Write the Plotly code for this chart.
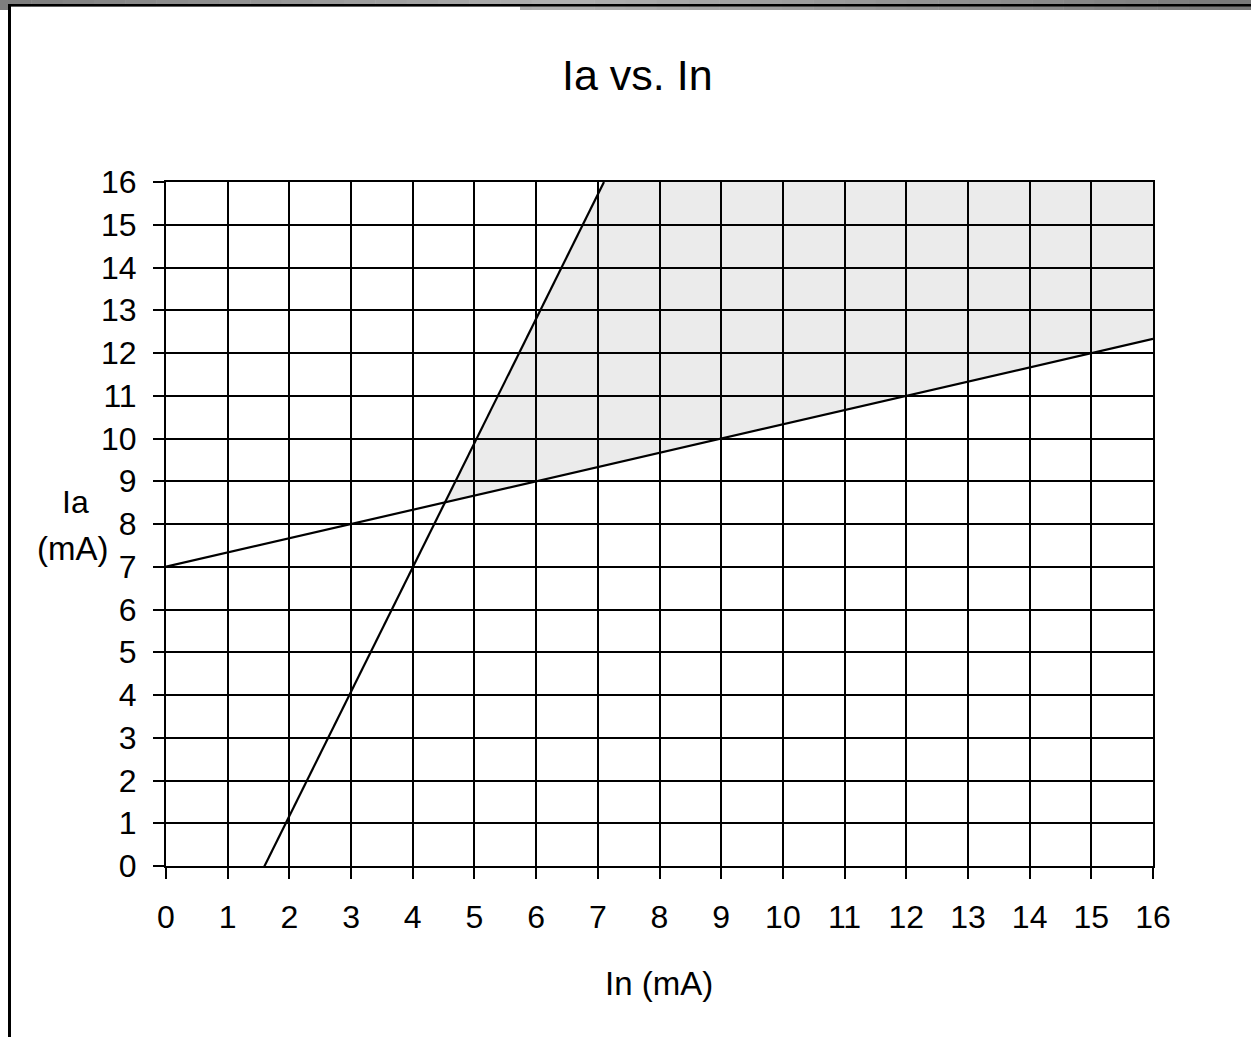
import plotly.graph_objects as go

# ---------------- data ----------------
tick_values = list(range(0, 17))
tick_labels = [str(v) for v in tick_values]

# steep boundary line (Ia vs In)
line_a_in = [1.57, 7.10]
line_a_ia = [-0.08, 16.0]

# shallow boundary line
line_b_in = [0.0, 16.0]
line_b_ia = [7.0, 12.33]

# shaded operating region
region_in = [4.52, 7.10, 16.0, 16.0, 4.52]
region_ia = [8.51, 16.0, 16.0, 12.33, 8.51]

title_text = "Ia vs. In"
x_title = "In (mA)"
y_title_1 = "Ia"
y_title_2 = "(mA)"

# ---------------- layout geometry ----------------
W, H = 1251, 1037
PL, PR, PT, PB = 166, 1153, 182, 866  # plot area in pixels


def px(x):
    return (x - PL) / (PR - PL)


def py(y):
    return (PB - y) / (PB - PT)


FONT = "Liberation Sans, Arial, Helvetica, sans-serif"

fig = go.Figure()

fig.add_trace(go.Scatter(
    x=region_in, y=region_ia, mode="lines", fill="toself",
    fillcolor="rgba(0,0,0,0.08)", line=dict(width=0), hoverinfo="skip",
    showlegend=False))

fig.add_trace(go.Scatter(
    x=line_a_in, y=line_a_ia, mode="lines",
    line=dict(color="black", width=2.2), showlegend=False))

fig.add_trace(go.Scatter(
    x=line_b_in, y=line_b_ia, mode="lines",
    line=dict(color="black", width=2.2), showlegend=False))

axis_common = dict(
    range=[0, 16], tickmode="array", tickvals=tick_values, ticktext=tick_labels,
    showgrid=True, gridcolor="black", gridwidth=2,
    zeroline=False, showline=True, linecolor="black", linewidth=2, mirror=True,
    ticks="outside", ticklen=11, tickwidth=2, tickcolor="black",
    tickfont=dict(family=FONT, size=32, color="black"),
    automargin=False, fixedrange=True,
)

fig.update_xaxes(**axis_common, ticklabelstandoff=11)
fig.update_yaxes(**axis_common, ticklabelstandoff=10)

# window frame decoration (gradient band at top)
shapes = []
n = 40
for i in range(n):
    x0 = W * i / n
    x1 = W * (i + 1) / n
    t = (x0 + x1) / 2 / W
    if t < 0.45:
        g = 125 + (176 - 125) * t / 0.45
    else:
        g = 176 - (176 - 120) * (t - 0.45) / 0.55
    g = int(round(g))
    shapes.append(dict(type="rect", xref="paper", yref="paper",
                       x0=px(x0), x1=px(x1 + 0.5), y0=py(10), y1=py(0),
                       fillcolor=f"rgb({g},{g},{g})", line=dict(width=0),
                       layer="above"))
shapes.append(dict(type="rect", xref="paper", yref="paper",
                   x0=px(11), x1=px(520), y0=py(10), y1=py(6.5),
                   fillcolor="white", line=dict(width=0), layer="above"))
shapes.append(dict(type="line", xref="paper", yref="paper",
                   x0=px(8), x1=px(W), y0=py(5.3), y1=py(5.3),
                   line=dict(color="black", width=2.5), layer="above"))
shapes.append(dict(type="line", xref="paper", yref="paper",
                   x0=px(9.5), x1=px(9.5), y0=py(4), y1=py(H),
                   line=dict(color="black", width=3), layer="above"))

annotations = [
    dict(text=title_text, xref="paper", yref="paper", x=px(637), y=py(75),
         xanchor="center", yanchor="middle", showarrow=False,
         font=dict(family=FONT, size=43, color="black")),
    dict(text=x_title, xref="paper", yref="paper", x=px(659), y=py(983),
         xanchor="center", yanchor="middle", showarrow=False,
         font=dict(family=FONT, size=33, color="black")),
    dict(text=y_title_1, xref="paper", yref="paper", x=px(75), y=py(502),
         xanchor="center", yanchor="middle", showarrow=False,
         font=dict(family=FONT, size=32, color="black")),
    dict(text=y_title_2, xref="paper", yref="paper", x=px(72.5), y=py(548),
         xanchor="center", yanchor="middle", showarrow=False,
         font=dict(family=FONT, size=33, color="black")),
]

fig.update_layout(
    template="none",
    width=W, height=H,
    margin=dict(l=PL, r=W - PR, t=PT, b=H - PB, autoexpand=False),
    paper_bgcolor="white", plot_bgcolor="white",
    showlegend=False,
    shapes=shapes,
    annotations=annotations,
    font=dict(family=FONT, color="black"),
)

fig.write_html(
    "out.html",
    config={"displayModeBar": False},
    post_script="document.body.style.margin='0';document.body.style.overflow='hidden';",
)
